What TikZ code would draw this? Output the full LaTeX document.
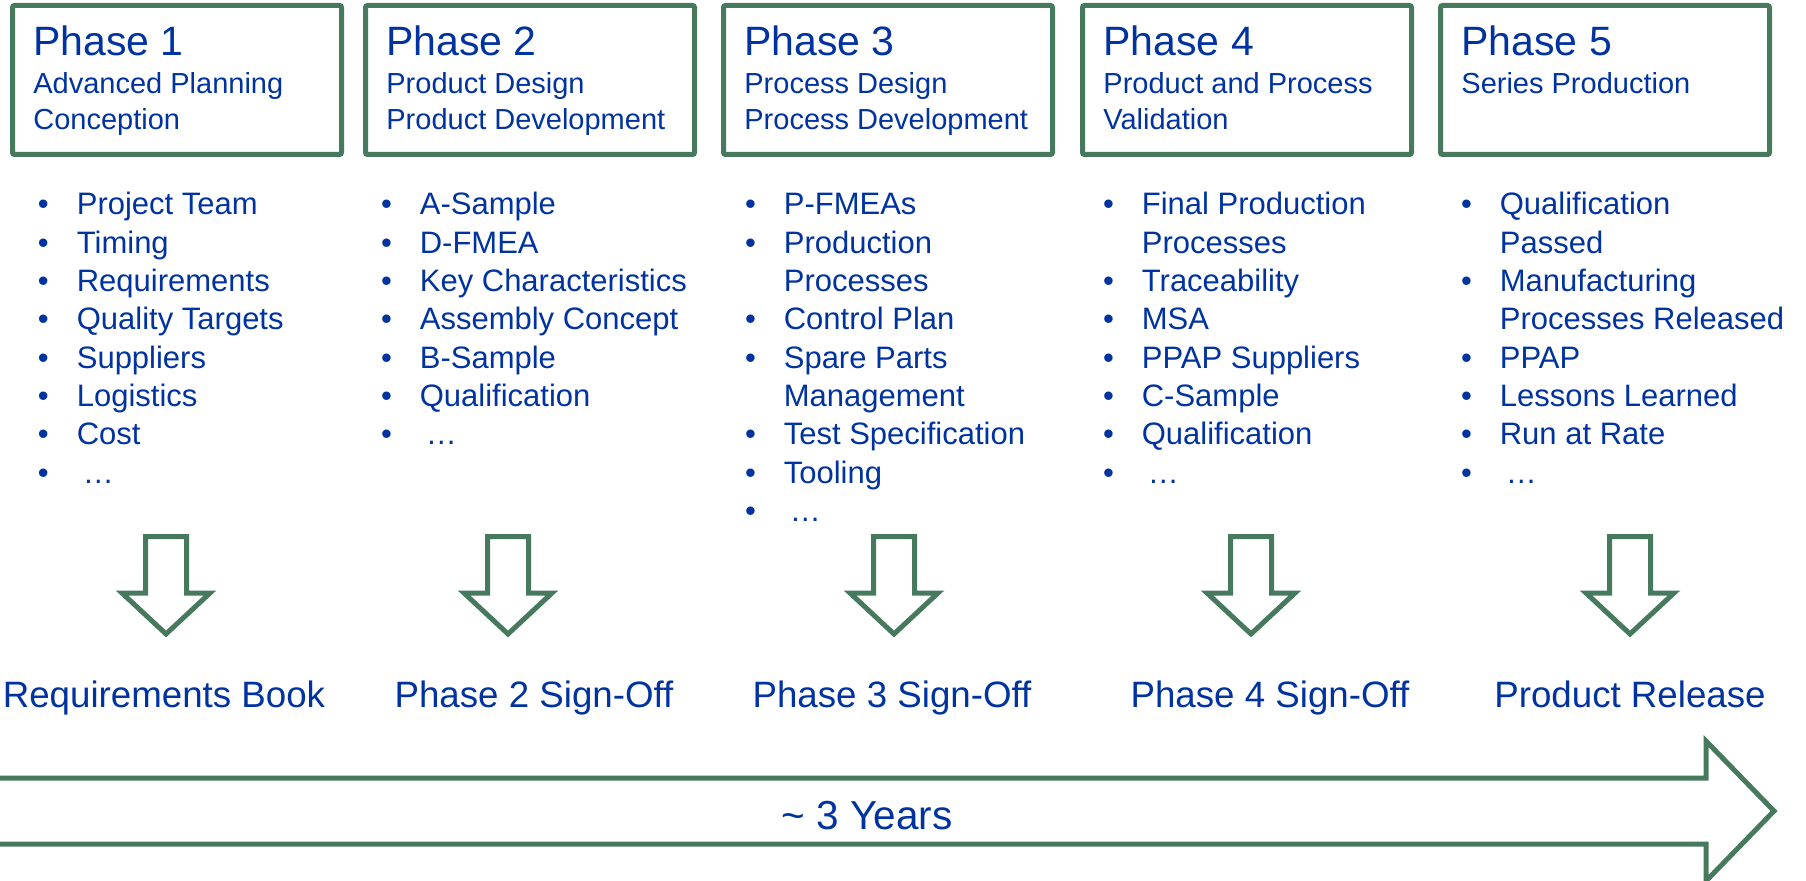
\documentclass[tikz,border=0pt]{standalone}
\usepackage{fontspec}
\setmainfont{Liberation Sans}

\definecolor{phgreen}{RGB}{71,121,94}
\definecolor{phblue}{RGB}{0,51,160}

\tikzset{
  phasebox/.style={draw=phgreen, line width=2.5pt, rounded corners=1pt,
    minimum width=164.5pt, minimum height=74.5pt, inner sep=0pt},
  phasetitle/.style={text=phblue, inner sep=0pt, anchor=base west,
    font=\fontsize{20.5pt}{24pt}\selectfont},
  phasesub/.style={text=phblue, inner sep=0pt, anchor=base west,
    font=\fontsize{14.5pt}{18pt}\selectfont},
  phaselist/.style={text=phblue, inner sep=0pt, anchor=base west,
    font=\fontsize{15.5pt}{19.15pt}\selectfont},
  outcome/.style={text=phblue, inner sep=0pt, anchor=base,
    font=\fontsize{18.35pt}{22pt}\selectfont},
  blockarrow/.style={draw=phgreen, line width=2.5pt, miter limit=4}
}

\begin{document}
\begin{tikzpicture}[x=0.5pt,y=0.5pt]

    \useasboundingbox (0,0) rectangle (1806,880);

    % phase boxes and titles
    \foreach \L/\n in {10/1, 363/2, 721/3, 1080/4, 1438/5}
    {
      \node[phasebox] (ph\n) at ({\L+167}, 800) {};
      \node[phasetitle] (ph\n title) at ({\L+23}, 824) {Phase \n};
    }

    \node[phasesub] (ph1sub) at (33, 786)
      {\begin{tabular}[t]{@{}l@{}}Advanced Planning\\Conception\end{tabular}};
    \node[phasesub] (ph2sub) at (386, 786)
      {\begin{tabular}[t]{@{}l@{}}Product Design\\Product Development\end{tabular}};
    \node[phasesub] (ph3sub) at (744, 786)
      {\begin{tabular}[t]{@{}l@{}}Process Design\\Process Development\end{tabular}};
    \node[phasesub] (ph4sub) at (1103, 786)
      {\begin{tabular}[t]{@{}l@{}}Product and Process\\Validation\end{tabular}};
    \node[phasesub] (ph5sub) at (1461, 786)
      {\begin{tabular}[t]{@{}l@{}}Series Production\end{tabular}};

    % bullet lists
    \node[phaselist] (ph1list) at (37.6, 665)
      {\begin{tabular}[t]{@{}l@{\hspace{14pt}}l@{}}
        • & Project Team\\
        • & Timing\\
        • & Requirements\\
        • & Quality Targets\\
        • & Suppliers\\
        • & Logistics\\
        • & Cost\\
        • & \hspace{3pt}…
      \end{tabular}};
    \node[phaselist] (ph2list) at (380.6, 665)
      {\begin{tabular}[t]{@{}l@{\hspace{14pt}}l@{}}
        • & A-Sample\\
        • & D-FMEA\\
        • & Key Characteristics\\
        • & Assembly Concept\\
        • & B-Sample\\
        • & Qualification\\
        • & \hspace{3pt}…
      \end{tabular}};
    \node[phaselist] (ph3list) at (744.6, 665)
      {\begin{tabular}[t]{@{}l@{\hspace{14pt}}l@{}}
        • & P-FMEAs\\
        • & Production\\
          & Processes\\
        • & Control Plan\\
        • & Spare Parts\\
          & Management\\
        • & Test Specification\\
        • & Tooling\\
        • & \hspace{3pt}…
      \end{tabular}};
    \node[phaselist] (ph4list) at (1102.6, 665)
      {\begin{tabular}[t]{@{}l@{\hspace{14pt}}l@{}}
        • & Final Production\\
          & Processes\\
        • & Traceability\\
        • & MSA\\
        • & PPAP Suppliers\\
        • & C-Sample\\
        • & Qualification\\
        • & \hspace{3pt}…
      \end{tabular}};
    \node[phaselist] (ph5list) at (1460.6, 665)
      {\begin{tabular}[t]{@{}l@{\hspace{14pt}}l@{}}
        • & Qualification\\
          & Passed\\
        • & Manufacturing\\
          & Processes Released\\
        • & PPAP\\
        • & Lessons Learned\\
        • & Run at Rate\\
        • & \hspace{3pt}…
      \end{tabular}};

    % down arrows
    \foreach \c in {166, 508, 894, 1251, 1630}
    \draw[blockarrow] ({\c-20.5},343.5) -- ({\c+20.5},343.5) -- ({\c+20.5},287)
      -- ({\c+44},287) -- (\c,246) -- ({\c-44},287) -- ({\c-20.5},287) -- cycle;

    % outcomes
    \node[outcome] (out1) at (164, 173) {Requirements Book};
    \node[outcome] (out2) at (534, 173) {Phase 2 Sign-Off};
    \node[outcome] (out3) at (892, 173) {Phase 3 Sign-Off};
    \node[outcome] (out4) at (1270, 173) {Phase 4 Sign-Off};
    \node[outcome] (out5) at (1630, 173) {Product Release};

    % timeline
    \draw[blockarrow] (-10,102) -- (1706,102) -- (1706,139) -- (1774,69)
      -- (1706,-1) -- (1706,36) -- (-10,36);
    \node[text=phblue, inner sep=0pt, anchor=base,
      font=\fontsize{20.25pt}{24pt}\selectfont] (years) at (867, 51)
      {\textasciitilde{} 3 Years};

  \end{tikzpicture}
\end{document}
